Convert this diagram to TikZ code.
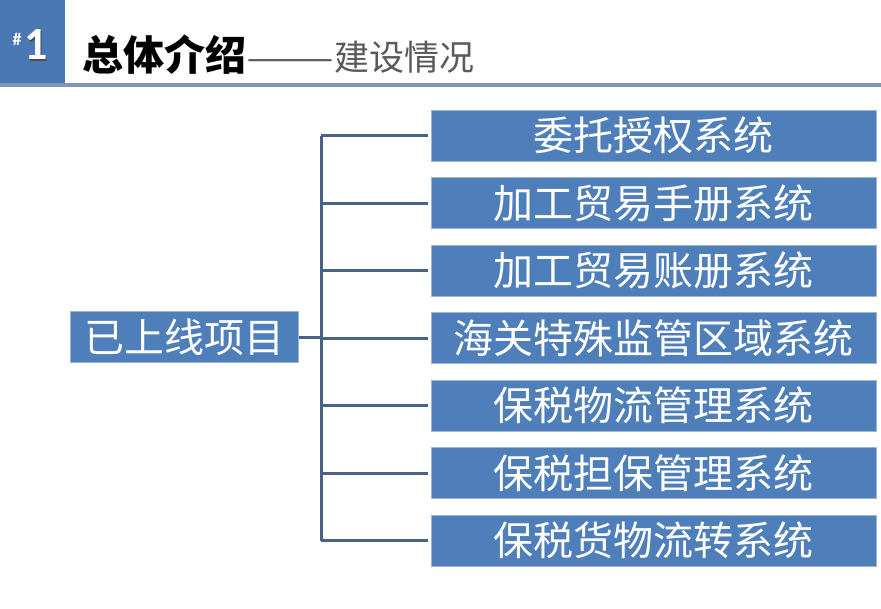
\documentclass[tikz,border=0pt]{standalone}
\usepackage{fontspec}
\newfontfamily\cjk{Noto Sans CJK SC}
\newfontfamily\numfont{Carlito}
\definecolor{boxblue}{HTML}{4F7FBA}
\definecolor{boxedge}{HTML}{9DB6D6}
\definecolor{hdrblue}{HTML}{4A78B2}
\definecolor{hdrline}{HTML}{7F96B6}
\definecolor{conncol}{HTML}{4A6283}
\definecolor{subgray}{HTML}{5A5A5A}
\tikzset{
  sysbox/.style={fill=boxblue, draw=boxedge, line width=0.8pt, minimum width=445pt, minimum height=51pt, text=white, font=\cjk\fontsize{40}{40}\selectfont, inner sep=0pt, anchor=west},
  rootbox/.style={fill=boxblue, draw=boxedge, line width=0.8pt, minimum width=228pt, minimum height=51pt, text=white, font=\cjk\fontsize{40}{40}\selectfont, inner sep=0pt, anchor=west},
  conn/.style={draw=conncol, line width=3pt},
}
\begin{document}
\begin{tikzpicture}[x=1pt,y=1pt]
\useasboundingbox (0,0) rectangle (881,-608);
\fill[white] (0,0) rectangle (881,-608);
% header
\fill[hdrblue] (0,0) rectangle (65,-84);
\fill[hdrline] (0,-83) rectangle (881,-87);
\node[anchor=center, text=black!70, font=\numfont\bfseries\fontsize{46}{46}\selectfont] at (37.5,-46.5) {1};
\node[anchor=center, text=white, font=\numfont\bfseries\fontsize{46}{46}\selectfont] (num) at (36,-45) {1};
\node[anchor=center, text=white, font=\numfont\bfseries\fontsize{18}{18}\selectfont] (hash) at (17,-39) {\#};
\node[anchor=west, inner sep=0pt, font=\cjk\bfseries\fontsize{41}{41}\selectfont] (title) at (82,-55) {总体介绍};
\node[anchor=base west, inner sep=0pt, text=subgray, font=\cjk\fontsize{35}{35}\selectfont] (sub) at (title.base east) {\scalebox{1.5}[1]{——}建设情况};
% root
\node[rootbox] (root) at (70,-337) {已上线项目};
% systems
\node[sysbox] (s1) at (431,-135.5) {委托授权系统};
\node[sysbox] (s2) at (431,-203) {加工贸易手册系统};
\node[sysbox] (s3) at (431,-270.5) {加工贸易账册系统};
\node[sysbox] (s4) at (431,-338) {海关特殊监管区域系统};
\node[sysbox] (s5) at (431,-405.5) {保税物流管理系统};
\node[sysbox] (s6) at (431,-473) {保税担保管理系统};
\node[sysbox] (s7) at (431,-540.5) {保税货物流转系统};
% bus
\coordinate (btop) at (321,-135.5);
\coordinate (bbot) at (321,-540.5);
\draw[conn] (btop) -- (bbot);
\draw[conn] (root.east) -- (root.east -| btop);
\foreach \i in {1,...,7} {
  \draw[conn, shorten >=3pt] (btop |- s\i.west) -- (s\i.west);
}
\end{tikzpicture}
\end{document}
